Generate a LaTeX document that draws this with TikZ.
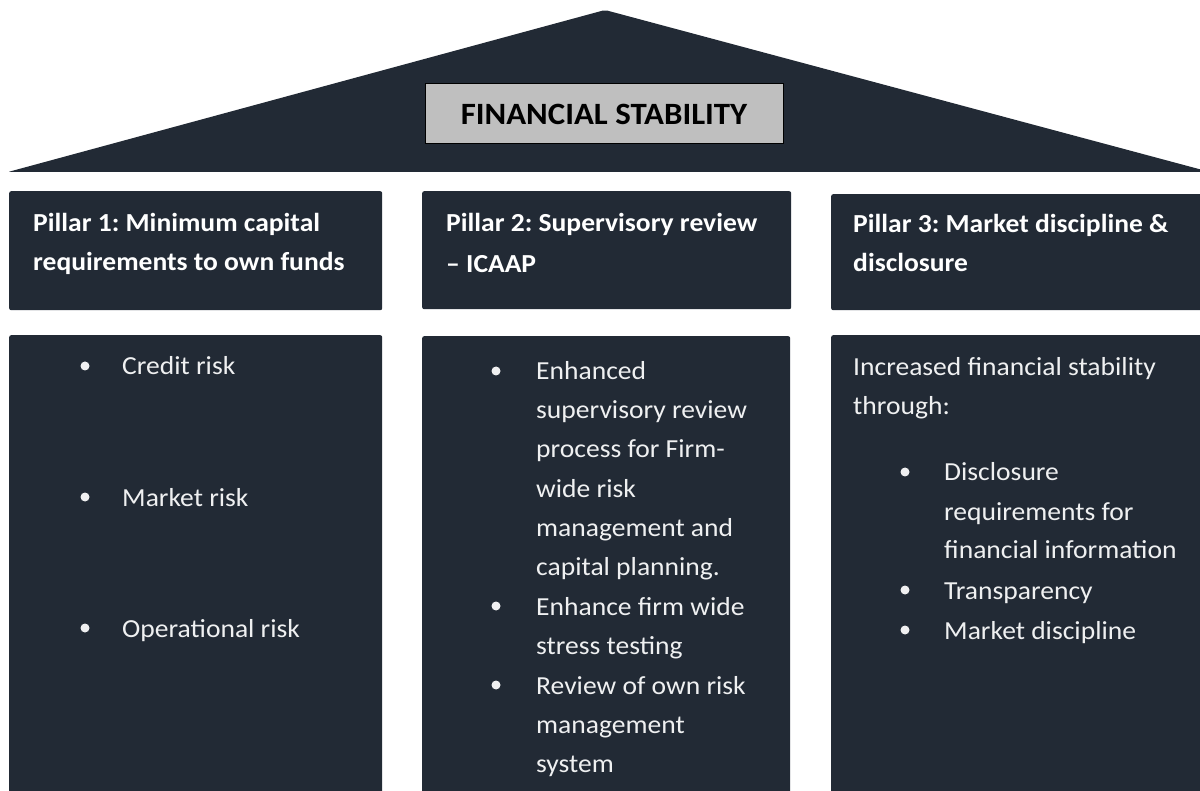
\documentclass[tikz,border=0pt]{standalone}
\usepackage{fontspec}
\setmainfont{Carlito}[FakeStretch=1.06]
\definecolor{navy}{HTML}{222A35}
\definecolor{roofgray}{HTML}{BFBFBF}
\begin{document}
\frenchspacing
\begin{tikzpicture}[x=1pt,y=-1pt,
  pillar/.style={fill=navy, draw=none, rounded corners=2pt, anchor=north west, inner sep=0},
  head/.style={anchor=base west, inner sep=0, text=white, font=\fontsize{26}{30}\selectfont\bfseries},
  body/.style={anchor=base west, inner sep=0, text=white!93!navy, font=\fontsize{26}{30}\selectfont},
  dot/.style={circle, fill=white!93!navy, inner sep=0, minimum size=9pt}]
\useasboundingbox (0,0) rectangle (1200,791);
% roof
\fill[navy, rounded corners=2pt] (605,10) -- (1210,172) -- (8,172) -- cycle;
\node[draw=black, fill=roofgray, line width=1pt, minimum width=358pt, minimum height=60pt,
      inner sep=0, font=\fontsize{31}{36}\selectfont\bfseries] (title) at (604,114) {FINANCIAL STABILITY};
% header boxes
\node[pillar, minimum width=373pt, minimum height=119pt] (h1) at (9,191) {};
\node[pillar, minimum width=369pt, minimum height=118pt] (h2) at (422,191) {};
\node[pillar, minimum width=375pt, minimum height=116pt] (h3) at (831,194) {};
% body boxes
\node[pillar, minimum width=373pt, minimum height=470pt] (b1) at (9,335) {};
\node[pillar, minimum width=368pt, minimum height=470pt] (b2) at (422,336) {};
\node[pillar, minimum width=375pt, minimum height=470pt] (b3) at (831,335) {};
% header texts
\node[head] (h1a) at (33,232) {Pillar 1: Minimum capital};
\node[head] (h1b) at (33,271) {requirements to own funds};
\node[head] (h2a) at (446,232) {Pillar 2: Supervisory review};
\node[head] (h2b) at (446,273) {– ICAAP};
\node[head] (h3a) at (853,233) {Pillar 3: Market discipline \&};
\node[head] (h3b) at (853,272) {disclosure};
% pillar 1 body
\node[dot] (d11) at (85,366) {};
\node[dot] (d12) at (85,497) {};
\node[dot] (d13) at (85,628) {};
\node[body] (t11) at (122,375) {Credit risk};
\node[body] (t12) at (122,506) {Market risk};
\node[body] (t13) at (122,637) {Operational risk};
% pillar 2 body
\node[dot] (d21) at (496,371) {};
\node[dot] (d22) at (496,606) {};
\node[dot] (d23) at (496,685) {};
\node[body] (t21) at (536,380) {Enhanced};
\node[body] (t22) at (536,419) {supervisory review};
\node[body] (t23) at (536,458) {process for Firm-};
\node[body] (t24) at (536,497) {wide risk};
\node[body] (t25) at (536,536) {management and};
\node[body] (t26) at (536,575) {capital planning.};
\node[body] (t27) at (536,615) {Enhance firm wide};
\node[body] (t28) at (536,654) {stress testing};
\node[body] (t29) at (536,694) {Review of own risk};
\node[body] (t210) at (536,733) {management};
\node[body] (t211) at (536,772) {system};
% pillar 3 body
\node[body] (t31) at (853,376) {Increased financial stability};
\node[body] (t32) at (853,415) {through:};
\node[dot] (d31) at (905,472) {};
\node[dot] (d32) at (905,590) {};
\node[dot] (d33) at (905,630) {};
\node[body] (t33) at (944,481) {Disclosure};
\node[body] (t34) at (944,520) {requirements for};
\node[body] (t35) at (944,558) {financial information};
\node[body] (t36) at (944,599) {Transparency};
\node[body] (t37) at (944,639) {Market discipline};
\end{tikzpicture}
\end{document}
